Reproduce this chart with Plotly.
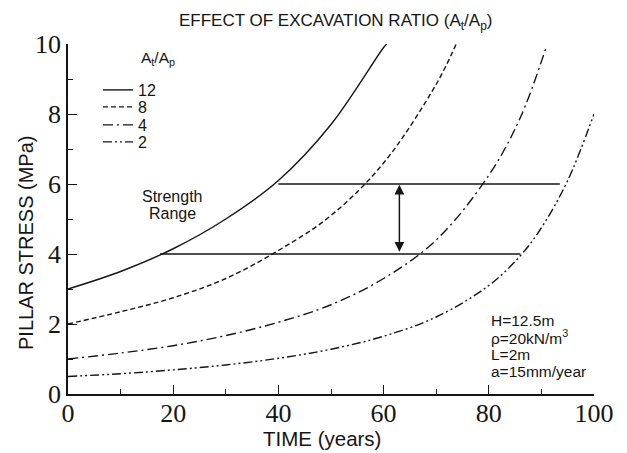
import plotly.graph_objects as go

# ---- data ----
t_12 = [0, 10, 20, 30, 40, 50, 60, 60.6]
s_12 = [3.0, 3.5, 4.15, 5.0, 6.1, 7.7, 9.9, 10.0]

t_8 = [0, 10, 20, 30, 40, 50, 60, 70, 73.8]
s_8 = [2.0, 2.35, 2.75, 3.3, 4.1, 5.1, 6.6, 8.85, 10.0]

t_4 = [0, 10, 20, 30, 40, 50, 60, 70, 80, 86, 91]
s_4 = [1.0, 1.17, 1.38, 1.67, 2.05, 2.55, 3.3, 4.4, 6.25, 7.9, 9.95]

t_2 = [0, 10, 20, 30, 40, 50, 60, 70, 80, 86, 90, 95, 100]
s_2 = [0.5, 0.58, 0.69, 0.83, 1.02, 1.28, 1.65, 2.2, 3.1, 3.95, 4.75, 6.1, 8.0]

ratio_labels = ["12", "8", "4", "2"]

strength_upper_t = [40, 93.5]
strength_upper_s = [6, 6]
strength_lower_t = [17.5, 86]
strength_lower_s = [4, 4]
arrow_t = 63

x_ticks = [0, 20, 40, 60, 80, 100]
y_ticks = [0, 2, 4, 6, 8, 10]

params = ["H=12.5m", "ρ=20kN/m<sup>3</sup>", "L=2m", "a=15mm/year"]

INK = "#151515"
SANS = "Liberation Sans, Arial, sans-serif"
SERIF = "Liberation Serif, Times New Roman, serif"

fig = go.Figure()

series = [
    (t_12, s_12, "solid"),
    (t_8, s_8, "5px,3px"),
    (t_4, s_4, "10px,4px,2px,4px"),
    (t_2, s_2, "9px,3px,2px,3px,2px,3px"),
]
legend_ids = ["legend", "legend2", "legend3", "legend4"]
for (tx, sy, dash), lab, lg in zip(series, ratio_labels, legend_ids):
    fig.add_trace(go.Scatter(
        x=tx, y=sy, mode="lines", name=lab, legend=lg,
        line=dict(color=INK, width=1.4, dash=dash, shape="spline", smoothing=1.0),
        hoverinfo="skip",
    ))

for tx, sy in [(strength_upper_t, strength_upper_s), (strength_lower_t, strength_lower_s)]:
    fig.add_trace(go.Scatter(
        x=tx, y=sy, mode="lines", showlegend=False,
        line=dict(color=INK, width=1.4), hoverinfo="skip",
    ))


def note(text, x, y, size, xanchor="center", **kw):
    return dict(text=text, x=x, y=y, xref="paper", yref="paper", showarrow=False,
                xanchor=xanchor, yanchor="middle",
                font=dict(family=SANS, size=size, color=INK), **kw)


annotations = [
    dict(x=arrow_t, y=strength_upper_s[0] - 0.02, ax=arrow_t, ay=strength_lower_s[0] + 0.02,
         xref="x", yref="y", axref="x", ayref="y", text="", showarrow=True,
         arrowhead=2, arrowside="end+start", arrowsize=1.3, arrowwidth=1.5, arrowcolor=INK),
    note("EFFECT OF EXCAVATION RATIO (A<sub>t</sub>/A<sub>p</sub>)", 0.508, 1.063, 17),
    note("PILLAR STRESS (MPa)", -0.08, 0.434, 20, textangle=-90),
    note("TIME (years)", 0.483, -0.126, 20.5),
    note("A<sub>t</sub>/A<sub>p</sub>", 0.171, 0.96, 15.5),
    note("Strength", 0.198, 0.563, 16),
    note("Range", 0.198, 0.517, 16),
]
param_y = [0.2086, 0.162, 0.1137, 0.065]
for txt, py in zip(params, param_y):
    annotations.append(note(txt, 0.800, py, 15.5, xanchor="left"))

legend_y = [0.8686, 0.82, 0.7686, 0.72]
legend_common = dict(x=0.057, xanchor="left", yanchor="middle",
                     bgcolor="rgba(0,0,0,0)", borderwidth=0,
                     font=dict(family=SANS, size=16, color=INK), itemwidth=30)

fig.update_layout(
    width=627, height=453,
    margin=dict(l=68, r=33, t=44, b=59),
    paper_bgcolor="white", plot_bgcolor="white",
    showlegend=True,
    legend=dict(y=legend_y[0], **legend_common),
    legend2=dict(y=legend_y[1], **legend_common),
    legend3=dict(y=legend_y[2], **legend_common),
    legend4=dict(y=legend_y[3], **legend_common),
    annotations=annotations,
    xaxis=dict(range=[0, 100], tickvals=x_ticks, ticks="inside", ticklen=9, tickwidth=1.3,
               tickcolor=INK, showline=True, linecolor=INK, linewidth=1.5,
               showgrid=False, zeroline=False, ticklabelstandoff=-5,
               tickfont=dict(family=SERIF, size=26, color=INK),
               minor=dict(dtick=10, ticks="inside", ticklen=5, tickwidth=1.2, tickcolor=INK)),
    yaxis=dict(range=[0, 10], tickvals=y_ticks, ticks="inside", ticklen=9, tickwidth=1.3,
               tickcolor=INK, showline=True, linecolor=INK, linewidth=1.5,
               showgrid=False, zeroline=False,
               tickfont=dict(family=SERIF, size=26, color=INK),
               minor=dict(dtick=1, ticks="inside", ticklen=5, tickwidth=1.2, tickcolor=INK)),
)

fig.write_html("out.html")
